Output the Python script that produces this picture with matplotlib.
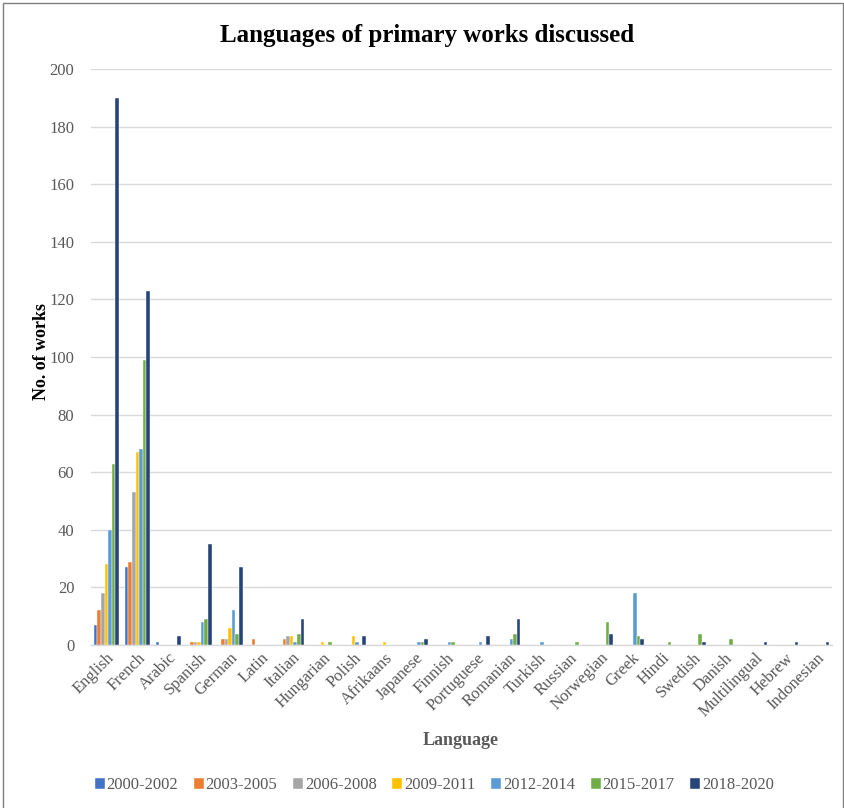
import numpy as np
import matplotlib
matplotlib.use('Agg')
from matplotlib import pyplot as plt
from matplotlib.patches import Rectangle

plt.rcParams['font.family'] = ['Liberation Serif', 'DejaVu Serif']

# Data
languages = ['English', 'French', 'Arabic', 'Spanish', 'German', 'Latin', 'Italian',
             'Hungarian', 'Polish', 'Afrikaans', 'Japanese', 'Finnish', 'Portuguese',
             'Romanian', 'Turkish', 'Russian', 'Norwegian', 'Greek', 'Hindi', 'Swedish',
             'Danish', 'Multilingual', 'Hebrew', 'Indonesian']
periods = ['2000-2002', '2003-2005', '2006-2008', '2009-2011', '2012-2014', '2015-2017', '2018-2020']

p2000 = [7, 27, 1, 0, 0, 0, 0, 0, 0, 0, 0, 0, 0, 0, 0, 0, 0, 0, 0, 0, 0, 0, 0, 0]
p2003 = [12, 29, 0, 1, 2, 2, 2, 0, 0, 0, 0, 0, 0, 0, 0, 0, 0, 0, 0, 0, 0, 0, 0, 0]
p2006 = [18, 53, 0, 1, 2, 0, 3, 0, 0, 0, 0, 0, 0, 0, 0, 0, 0, 0, 0, 0, 0, 0, 0, 0]
p2009 = [28, 67, 0, 1, 6, 0, 3, 1, 3, 1, 0, 0, 0, 0, 0, 0, 0, 0, 0, 0, 0, 0, 0, 0]
p2012 = [40, 68, 0, 8, 12, 0, 1, 0, 1, 0, 1, 1, 1, 2, 1, 0, 0, 18, 0, 0, 0, 0, 0, 0]
p2015 = [63, 99, 0, 9, 4, 0, 4, 1, 0, 0, 1, 1, 0, 4, 0, 1, 8, 3, 1, 4, 2, 0, 0, 0]
p2018 = [190, 123, 3, 35, 27, 0, 9, 0, 3, 0, 2, 0, 3, 9, 0, 0, 4, 2, 0, 1, 0, 1, 1, 1]

series = [p2000, p2003, p2006, p2009, p2012, p2015, p2018]
colors = ['#4472C4', '#ED7D31', '#A5A5A5', '#FFC000', '#5B9BD5', '#70AD47', '#264478']

fig = plt.figure(figsize=(8.45, 8.08), dpi=100)
ax = fig.add_axes([0.1077, 0.2017, 0.8769, 0.7129])

x = np.arange(len(languages))
w = 0.117
for i, (vals, c) in enumerate(zip(series, colors)):
    ax.bar(x + (i - 3) * w, vals, width=w, color=c, edgecolor='white',
           linewidth=0.3, label=periods[i], zorder=3)

# axes styling
ax.set_xlim(-0.5, len(languages) - 0.5)
ax.set_ylim(0, 200)
ax.set_yticks(np.arange(0, 201, 20))
ax.grid(axis='y', color='#D9D9D9', linewidth=1.0, zorder=0)
for s in ['top', 'right', 'left']:
    ax.spines[s].set_visible(False)
ax.spines['bottom'].set_color('#D9D9D9')
ax.spines['bottom'].set_linewidth(1.0)
ax.tick_params(axis='both', length=0, colors='#595959', labelsize=12)
ax.tick_params(axis='y', pad=12)
ax.set_xticks(x)
ax.set_xticklabels(languages, rotation=45, ha='right', rotation_mode='anchor')

ax.set_ylabel('No. of works', fontsize=13, fontweight='bold', color='black')
ax.yaxis.set_label_coords(-0.056, 0.51)
fig.text(0.5455, 0.084, 'Language', ha='center', va='center', fontsize=13,
         fontweight='bold', color='#595959')
fig.text(0.505, 0.956, 'Languages of primary works discussed', ha='center', va='center',
         fontsize=18, fontweight='bold')

# legend
fig.legend(loc='center', bbox_to_anchor=(0.514, 0.028), ncol=7, frameon=False,
           fontsize=12, handlelength=0.6, handleheight=0.6, handletextpad=0.1,
           columnspacing=0.95, labelcolor='#595959')

# chart border
fig.patches.append(Rectangle((3 / 845, -0.01), 840 / 845, 1 - 3 / 808 + 0.01,
                             transform=fig.transFigure, fill=False,
                             edgecolor='#7F7F7F', linewidth=1.0))

plt.savefig('out.png', dpi=100)
